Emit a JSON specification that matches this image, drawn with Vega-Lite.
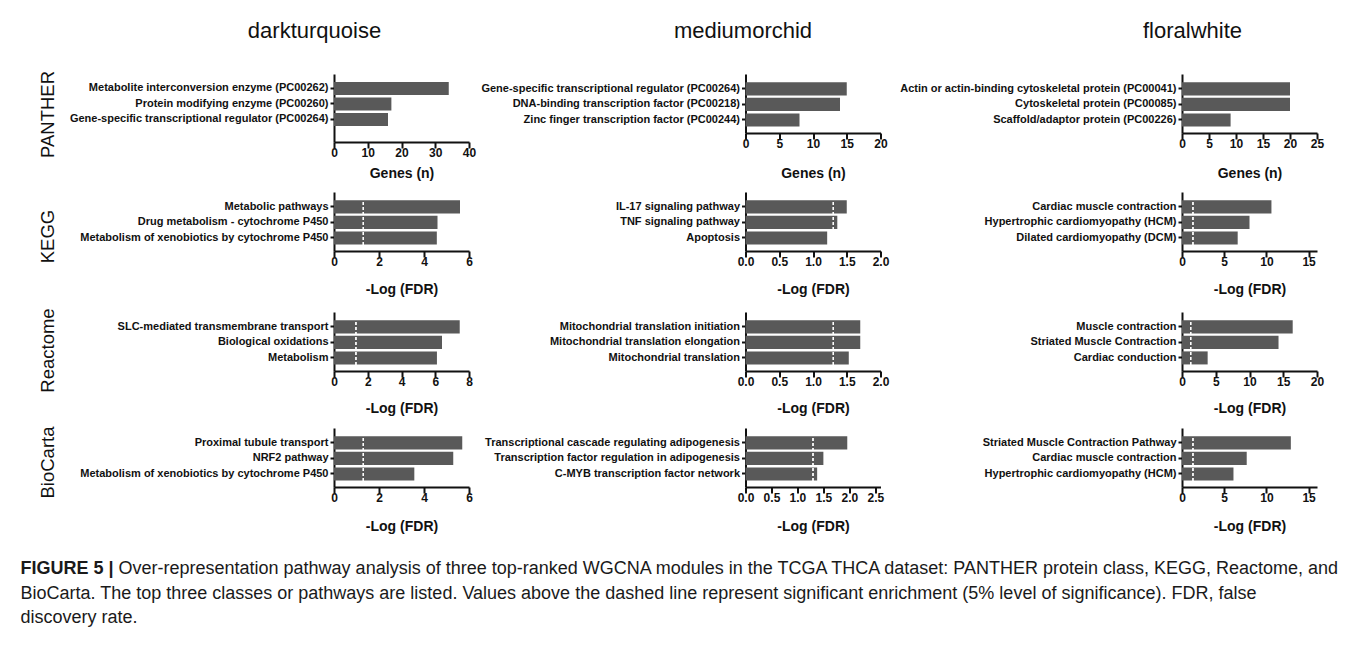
{
  "$schema": "https://vega.github.io/schema/vega-lite/v6.json",
  "padding": {"left": 20, "top": 19, "right": 5, "bottom": 5},
  "background": "white",
  "datasets": {
    "d": [
      {"m": "darkturquoise", "db": "PANTHER", "term": "Metabolite interconversion enzyme (PC00262)", "v": 34},
      {"m": "darkturquoise", "db": "PANTHER", "term": "Protein modifying enzyme (PC00260)", "v": 17},
      {"m": "darkturquoise", "db": "PANTHER", "term": "Gene-specific transcriptional regulator (PC00264)", "v": 16},
      {"m": "mediumorchid", "db": "PANTHER", "term": "Gene-specific transcriptional regulator (PC00264)", "v": 15},
      {"m": "mediumorchid", "db": "PANTHER", "term": "DNA-binding transcription factor (PC00218)", "v": 14},
      {"m": "mediumorchid", "db": "PANTHER", "term": "Zinc finger transcription factor (PC00244)", "v": 8},
      {"m": "floralwhite", "db": "PANTHER", "term": "Actin or actin-binding cytoskeletal protein (PC00041)", "v": 20},
      {"m": "floralwhite", "db": "PANTHER", "term": "Cytoskeletal protein (PC00085)", "v": 20},
      {"m": "floralwhite", "db": "PANTHER", "term": "Scaffold/adaptor protein (PC00226)", "v": 9},
      {"m": "darkturquoise", "db": "KEGG", "term": "Metabolic pathways", "v": 5.6},
      {"m": "darkturquoise", "db": "KEGG", "term": "Drug metabolism - cytochrome P450", "v": 4.6},
      {"m": "darkturquoise", "db": "KEGG", "term": "Metabolism of xenobiotics by cytochrome P450", "v": 4.57},
      {"m": "mediumorchid", "db": "KEGG", "term": "IL-17 signaling pathway", "v": 1.5},
      {"m": "mediumorchid", "db": "KEGG", "term": "TNF signaling pathway", "v": 1.36},
      {"m": "mediumorchid", "db": "KEGG", "term": "Apoptosis", "v": 1.21},
      {"m": "floralwhite", "db": "KEGG", "term": "Cardiac muscle contraction", "v": 10.6},
      {"m": "floralwhite", "db": "KEGG", "term": "Hypertrophic cardiomyopathy (HCM)", "v": 8.0},
      {"m": "floralwhite", "db": "KEGG", "term": "Dilated cardiomyopathy (DCM)", "v": 6.6},
      {"m": "darkturquoise", "db": "Reactome", "term": "SLC-mediated transmembrane transport", "v": 7.45},
      {"m": "darkturquoise", "db": "Reactome", "term": "Biological oxidations", "v": 6.4},
      {"m": "darkturquoise", "db": "Reactome", "term": "Metabolism", "v": 6.1},
      {"m": "mediumorchid", "db": "Reactome", "term": "Mitochondrial translation initiation", "v": 1.7},
      {"m": "mediumorchid", "db": "Reactome", "term": "Mitochondrial translation elongation", "v": 1.7},
      {"m": "mediumorchid", "db": "Reactome", "term": "Mitochondrial translation", "v": 1.53},
      {"m": "floralwhite", "db": "Reactome", "term": "Muscle contraction", "v": 16.4},
      {"m": "floralwhite", "db": "Reactome", "term": "Striated Muscle Contraction", "v": 14.3},
      {"m": "floralwhite", "db": "Reactome", "term": "Cardiac conduction", "v": 3.8},
      {"m": "darkturquoise", "db": "BioCarta", "term": "Proximal tubule transport", "v": 5.7},
      {"m": "darkturquoise", "db": "BioCarta", "term": "NRF2 pathway", "v": 5.3},
      {"m": "darkturquoise", "db": "BioCarta", "term": "Metabolism of xenobiotics by cytochrome P450", "v": 3.57},
      {"m": "mediumorchid", "db": "BioCarta", "term": "Transcriptional cascade regulating adipogenesis", "v": 1.96},
      {"m": "mediumorchid", "db": "BioCarta", "term": "Transcription factor regulation in adipogenesis", "v": 1.5},
      {"m": "mediumorchid", "db": "BioCarta", "term": "C-MYB transcription factor network", "v": 1.38},
      {"m": "floralwhite", "db": "BioCarta", "term": "Striated Muscle Contraction Pathway", "v": 12.9},
      {"m": "floralwhite", "db": "BioCarta", "term": "Cardiac muscle contraction", "v": 7.67},
      {"m": "floralwhite", "db": "BioCarta", "term": "Hypertrophic cardiomyopathy (HCM)", "v": 6.1}
    ]
  },
  "data": {"name": "d"},
  "title": {
    "text": ["BioCarta. The top three classes or pathways are listed. Values above the dashed line represent significant enrichment (5% level of significance). FDR, false", "discovery rate."],
    "orient": "bottom", "anchor": "start", "frame": "bounds", "baseline": "top",
    "offset": 6.5, "dx": 0, "lineHeight": 24.5,
    "font": "Liberation Sans", "fontSize": 18, "fontWeight": "normal", "color": "#1a1a1a"
  },
  "vconcat": [
    {
      "title": {
        "text": "Over-representation pathway analysis of three top-ranked WGCNA modules in the TCGA THCA dataset: PANTHER protein class, KEGG, Reactome, and",
        "orient": "bottom", "anchor": "start", "frame": "bounds", "baseline": "top",
        "offset": -18, "dx": 98,
        "font": "Liberation Sans", "fontSize": 18, "fontWeight": "normal", "color": "#1a1a1a"
      },
      "vconcat": [
        {
          "title": {
            "text": "FIGURE 5 |",
            "orient": "bottom", "anchor": "start", "frame": "bounds", "baseline": "top",
            "offset": 27, "dx": -18,
            "font": "Liberation Sans", "fontSize": 18, "fontWeight": "bold", "color": "#1a1a1a"
          },
          "columns": 3,
          "align": "each",
          "spacing": {"row": 11, "column": 4.5},
          "concat": [
            {
              "width": 135, "height": 68,
              "title": {"text": "darkturquoise", "dx": -87, "offset": 27.5},
              "transform": [{"filter": "datum.m === 'darkturquoise' && datum.db === 'PANTHER'"}],
              "layer": [
                {"mark": "bar", "encoding": {
                  "x": {"field": "v", "type": "quantitative", "scale": {"domain": [0, 40]}, "axis": {"values": [0, 10, 20, 30, 40], "labelOverlap": false, "title": "Genes (n)", "titlePadding": 8}},
                  "y": {"field": "term", "type": "nominal", "sort": null, "scale": {"paddingInner": 0.16, "paddingOuter": 0.77, "align": 0.33}, "axis": {"title": "PANTHER", "titleY": 40, "minExtent": 270, "maxExtent": 270}}
                }}
              ]
            },
            {
              "width": 135, "height": 59,
              "title": {"text": "mediumorchid", "dx": -70, "offset": 31.5},
              "transform": [{"filter": "datum.m === 'mediumorchid' && datum.db === 'PANTHER'"}],
              "layer": [
                {"mark": "bar", "encoding": {
                  "x": {"field": "v", "type": "quantitative", "scale": {"domain": [0, 20]}, "axis": {"values": [0, 5, 10, 15, 20], "labelOverlap": false, "title": "Genes (n)", "titlePadding": 17}},
                  "y": {"field": "term", "type": "nominal", "sort": null, "scale": {"paddingInner": 0.16, "paddingOuter": 0.48, "align": 0.56}, "axis": {"title": null, "minExtent": 261, "maxExtent": 261}}
                }}
              ]
            },
            {
              "width": 135, "height": 59,
              "title": {"text": "floralwhite", "dx": -57, "offset": 31.5},
              "transform": [{"filter": "datum.m === 'floralwhite' && datum.db === 'PANTHER'"}],
              "layer": [
                {"mark": "bar", "encoding": {
                  "x": {"field": "v", "type": "quantitative", "scale": {"domain": [0, 25]}, "axis": {"values": [0, 5, 10, 15, 20, 25], "labelOverlap": false, "title": "Genes (n)", "titlePadding": 17}},
                  "y": {"field": "term", "type": "nominal", "sort": null, "scale": {"paddingInner": 0.16, "paddingOuter": 0.48, "align": 0.56}, "axis": {"title": null, "minExtent": 288, "maxExtent": 288}}
                }}
              ]
            },
            {
              "width": 135, "height": 59,
              "transform": [{"filter": "datum.m === 'darkturquoise' && datum.db === 'KEGG'"}],
              "layer": [
                {"mark": "bar", "encoding": {
                  "x": {"field": "v", "type": "quantitative", "scale": {"domain": [0, 6]}, "axis": {"values": [0, 2, 4, 6], "labelOverlap": false, "title": "-Log (FDR)", "titlePadding": 15}},
                  "y": {"field": "term", "type": "nominal", "sort": null, "scale": {"paddingInner": 0.16, "paddingOuter": 0.48, "align": 0.56}, "axis": {"title": "KEGG", "titleY": 44, "minExtent": 270, "maxExtent": 270}}
                }},
                {"mark": {"type": "rule", "color": "white", "strokeDash": [3, 2], "strokeWidth": 1}, "encoding": {"x": {"datum": 1.3, "type": "quantitative", "axis": {"values": [0, 2, 4, 6], "labelOverlap": false, "title": "-Log (FDR)", "titlePadding": 15}}}}
              ]
            },
            {
              "width": 135, "height": 59,
              "transform": [{"filter": "datum.m === 'mediumorchid' && datum.db === 'KEGG'"}],
              "layer": [
                {"mark": "bar", "encoding": {
                  "x": {"field": "v", "type": "quantitative", "scale": {"domain": [0, 2]}, "axis": {"values": [0, 0.5, 1, 1.5, 2], "format": ".1f", "labelOverlap": false, "title": "-Log (FDR)", "titlePadding": 15}},
                  "y": {"field": "term", "type": "nominal", "sort": null, "scale": {"paddingInner": 0.16, "paddingOuter": 0.48, "align": 0.56}, "axis": {"title": null, "minExtent": 261, "maxExtent": 261}}
                }},
                {"mark": {"type": "rule", "color": "white", "strokeDash": [3, 2], "strokeWidth": 1}, "encoding": {"x": {"datum": 1.3, "type": "quantitative", "axis": {"values": [0, 0.5, 1, 1.5, 2], "format": ".1f", "labelOverlap": false, "title": "-Log (FDR)", "titlePadding": 15}}}}
              ]
            },
            {
              "width": 135, "height": 59,
              "transform": [{"filter": "datum.m === 'floralwhite' && datum.db === 'KEGG'"}],
              "layer": [
                {"mark": "bar", "encoding": {
                  "x": {"field": "v", "type": "quantitative", "scale": {"domain": [0, 15]}, "axis": {"values": [0, 5, 10, 15], "labelOverlap": false, "title": "-Log (FDR)", "titlePadding": 15}},
                  "y": {"field": "term", "type": "nominal", "sort": null, "scale": {"paddingInner": 0.16, "paddingOuter": 0.48, "align": 0.56}, "axis": {"title": null, "minExtent": 288, "maxExtent": 288}}
                }},
                {"mark": {"type": "rule", "color": "white", "strokeDash": [3, 2], "strokeWidth": 1}, "encoding": {"x": {"datum": 1.3, "type": "quantitative", "axis": {"values": [0, 5, 10, 15], "labelOverlap": false, "title": "-Log (FDR)", "titlePadding": 15}}}}
              ]
            },
            {
              "width": 135, "height": 59,
              "transform": [{"filter": "datum.m === 'darkturquoise' && datum.db === 'Reactome'"}],
              "layer": [
                {"mark": "bar", "encoding": {
                  "x": {"field": "v", "type": "quantitative", "scale": {"domain": [0, 8]}, "axis": {"values": [0, 2, 4, 6, 8], "labelOverlap": false, "title": "-Log (FDR)", "titlePadding": 14}},
                  "y": {"field": "term", "type": "nominal", "sort": null, "scale": {"paddingInner": 0.16, "paddingOuter": 0.48, "align": 0.56}, "axis": {"title": "Reactome", "titleY": 38, "minExtent": 270, "maxExtent": 270}}
                }},
                {"mark": {"type": "rule", "color": "white", "strokeDash": [3, 2], "strokeWidth": 1}, "encoding": {"x": {"datum": 1.3, "type": "quantitative", "axis": {"values": [0, 2, 4, 6, 8], "labelOverlap": false, "title": "-Log (FDR)", "titlePadding": 14}}}}
              ]
            },
            {
              "width": 135, "height": 59,
              "transform": [{"filter": "datum.m === 'mediumorchid' && datum.db === 'Reactome'"}],
              "layer": [
                {"mark": "bar", "encoding": {
                  "x": {"field": "v", "type": "quantitative", "scale": {"domain": [0, 2]}, "axis": {"values": [0, 0.5, 1, 1.5, 2], "format": ".1f", "labelOverlap": false, "title": "-Log (FDR)", "titlePadding": 14}},
                  "y": {"field": "term", "type": "nominal", "sort": null, "scale": {"paddingInner": 0.16, "paddingOuter": 0.48, "align": 0.56}, "axis": {"title": null, "minExtent": 261, "maxExtent": 261}}
                }},
                {"mark": {"type": "rule", "color": "white", "strokeDash": [3, 2], "strokeWidth": 1}, "encoding": {"x": {"datum": 1.3, "type": "quantitative", "axis": {"values": [0, 0.5, 1, 1.5, 2], "format": ".1f", "labelOverlap": false, "title": "-Log (FDR)", "titlePadding": 14}}}}
              ]
            },
            {
              "width": 135, "height": 59,
              "transform": [{"filter": "datum.m === 'floralwhite' && datum.db === 'Reactome'"}],
              "layer": [
                {"mark": "bar", "encoding": {
                  "x": {"field": "v", "type": "quantitative", "scale": {"domain": [0, 20]}, "axis": {"values": [0, 5, 10, 15, 20], "labelOverlap": false, "title": "-Log (FDR)", "titlePadding": 14}},
                  "y": {"field": "term", "type": "nominal", "sort": null, "scale": {"paddingInner": 0.16, "paddingOuter": 0.48, "align": 0.56}, "axis": {"title": null, "minExtent": 288, "maxExtent": 288}}
                }},
                {"mark": {"type": "rule", "color": "white", "strokeDash": [3, 2], "strokeWidth": 1}, "encoding": {"x": {"datum": 1.3, "type": "quantitative", "axis": {"values": [0, 5, 10, 15, 20], "labelOverlap": false, "title": "-Log (FDR)", "titlePadding": 14}}}}
              ]
            },
            {
              "width": 135, "height": 59,
              "transform": [{"filter": "datum.m === 'darkturquoise' && datum.db === 'BioCarta'"}],
              "layer": [
                {"mark": "bar", "encoding": {
                  "x": {"field": "v", "type": "quantitative", "scale": {"domain": [0, 6]}, "axis": {"values": [0, 2, 4, 6], "labelOverlap": false, "title": "-Log (FDR)", "titlePadding": 16}},
                  "y": {"field": "term", "type": "nominal", "sort": null, "scale": {"paddingInner": 0.16, "paddingOuter": 0.48, "align": 0.56}, "axis": {"title": "BioCarta", "titleY": 34, "minExtent": 270, "maxExtent": 270}}
                }},
                {"mark": {"type": "rule", "color": "white", "strokeDash": [3, 2], "strokeWidth": 1}, "encoding": {"x": {"datum": 1.3, "type": "quantitative", "axis": {"values": [0, 2, 4, 6], "labelOverlap": false, "title": "-Log (FDR)", "titlePadding": 16}}}}
              ]
            },
            {
              "width": 135, "height": 59,
              "transform": [{"filter": "datum.m === 'mediumorchid' && datum.db === 'BioCarta'"}],
              "layer": [
                {"mark": "bar", "encoding": {
                  "x": {"field": "v", "type": "quantitative", "scale": {"domain": [0, 2.5]}, "axis": {"values": [0, 0.5, 1, 1.5, 2, 2.5], "format": ".1f", "labelOverlap": false, "title": "-Log (FDR)", "titlePadding": 16}},
                  "y": {"field": "term", "type": "nominal", "sort": null, "scale": {"paddingInner": 0.16, "paddingOuter": 0.48, "align": 0.56}, "axis": {"title": null, "minExtent": 261, "maxExtent": 261}}
                }},
                {"mark": {"type": "rule", "color": "white", "strokeDash": [3, 2], "strokeWidth": 1}, "encoding": {"x": {"datum": 1.3, "type": "quantitative", "axis": {"values": [0, 0.5, 1, 1.5, 2, 2.5], "format": ".1f", "labelOverlap": false, "title": "-Log (FDR)", "titlePadding": 16}}}}
              ]
            },
            {
              "width": 135, "height": 59,
              "transform": [{"filter": "datum.m === 'floralwhite' && datum.db === 'BioCarta'"}],
              "layer": [
                {"mark": "bar", "encoding": {
                  "x": {"field": "v", "type": "quantitative", "scale": {"domain": [0, 15]}, "axis": {"values": [0, 5, 10, 15], "labelOverlap": false, "title": "-Log (FDR)", "titlePadding": 16}},
                  "y": {"field": "term", "type": "nominal", "sort": null, "scale": {"paddingInner": 0.16, "paddingOuter": 0.48, "align": 0.56}, "axis": {"title": null, "minExtent": 288, "maxExtent": 288}}
                }},
                {"mark": {"type": "rule", "color": "white", "strokeDash": [3, 2], "strokeWidth": 1}, "encoding": {"x": {"datum": 1.3, "type": "quantitative", "axis": {"values": [0, 5, 10, 15], "labelOverlap": false, "title": "-Log (FDR)", "titlePadding": 16}}}}
              ]
            }
          ]
        }
      ]
    }
  ],
  "config": {
    "font": "Liberation Sans",
    "view": {"stroke": null},
    "bar": {"color": "#595959"},
    "title": {"font": "Liberation Sans", "fontSize": 22, "fontWeight": "normal", "color": "#111111", "anchor": "middle", "frame": "group", "baseline": "alphabetic"},
    "axis": {"domainColor": "#111111", "domainWidth": 2, "tickColor": "#111111", "tickWidth": 2, "labelColor": "#111111", "labelFont": "Liberation Sans", "labelFontWeight": "bold", "titleFont": "Liberation Sans", "titleColor": "#111111", "grid": false, "labelFlush": false, "labelOverlap": false, "zindex": 1},
    "axisX": {"tickSize": 6, "labelPadding": -1, "labelFontSize": 12, "titleFontSize": 14, "titleFontWeight": "bold"},
    "axisY": {"tickSize": 4, "labelPadding": 2, "labelFontSize": 11, "labelLimit": 400, "titleFontSize": 18.5, "titleFontWeight": "normal", "titlePadding": 6.5}
  }
}
